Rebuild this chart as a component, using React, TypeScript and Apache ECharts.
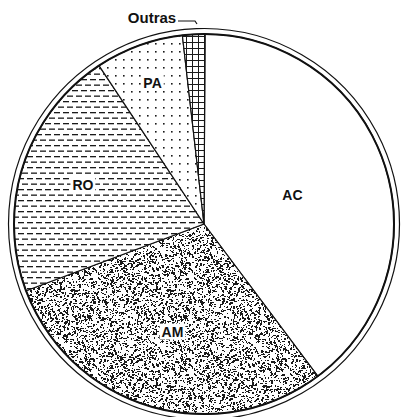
import React, { useEffect, useRef } from "react";
import * as echarts from "echarts";

const categories = ["AC", "AM", "RO", "PA", "Outras"];
const values = [39.7, 29.5, 21.4, 7.5, 1.9];
// fraction of radius at which each inside label sits
const labelRadiusFrac = [0.49, 0.59, 0.67, 0.79, 0];

const CX = 204;
const CY = 224;
const R = 190;
const START = 89.7;

function makeCanvas(w: number, h: number, draw: (ctx: CanvasRenderingContext2D) => void) {
  const c = document.createElement("canvas");
  c.width = w;
  c.height = h;
  const ctx = c.getContext("2d")!;
  ctx.fillStyle = "#ffffff";
  ctx.fillRect(0, 0, w, h);
  ctx.fillStyle = "#1a1a1a";
  draw(ctx);
  return c;
}

function stipple() {
  let s = 12345;
  const rnd = () => {
    s = (s * 1103515245 + 12345) & 0x7fffffff;
    return s / 0x7fffffff;
  };
  return makeCanvas(96, 96, (ctx) => {
    for (let i = 0; i < 1850; i++) {
      const x = Math.floor(rnd() * 96);
      const y = Math.floor(rnd() * 96);
      const w = rnd() < 0.6 ? 1 : 2;
      const h = rnd() < 0.7 ? 1 : 2;
      ctx.fillRect(x, y, w, h);
    }
  });
}

function dashes() {
  return makeCanvas(9, 11, (ctx) => {
    ctx.fillRect(0, 2, 6, 1.3);
    ctx.fillRect(4, 7.5, 5, 1.3);
    ctx.fillRect(0, 7.5, 1, 1.3);
  });
}

function dots() {
  return makeCanvas(8, 8, (ctx) => {
    ctx.fillRect(3, 3, 1.6, 1.6);
  });
}

function grid() {
  return makeCanvas(6, 6, (ctx) => {
    ctx.fillRect(0, 0, 6, 1);
    ctx.fillRect(0, 0, 1, 6);
  });
}

export default function App() {
  const ref = useRef<HTMLDivElement>(null);
  useEffect(() => {
    document.body.style.margin = "0";
    const chart = echarts.init(ref.current!, null, { renderer: "svg" });
    const patterns: any[] = [
      "#ffffff",
      { image: stipple(), repeat: "repeat" },
      { image: dashes(), repeat: "repeat" },
      { image: dots(), repeat: "repeat" },
      { image: grid(), repeat: "repeat" },
    ];
    const total = values.reduce((a, b) => a + b, 0);
    const mids: number[] = [];
    let acc = 0;
    values.forEach((v) => {
      const a0 = (acc / total) * 360;
      acc += v;
      const a1 = (acc / total) * 360;
      mids.push((90 - START) + (a0 + a1) / 2);
    });
    const labelBg = ["transparent", "#fff", "#fff", "#fff", "transparent"];
    chart.setOption({
      animation: false,
      series: [
        {
          type: "pie",
          center: [CX, CY],
          radius: [0, R],
          startAngle: START,
          clockwise: true,
          avoidLabelOverlap: false,
          data: categories.map((c, i) => ({
            name: c,
            value: values[i],
            itemStyle: { color: patterns[i] },
            label: {
              backgroundColor: labelBg[i],
              padding: [1, 2],
              fontSize: c === "Outras" ? 15 : 14,
            },
          })),
          itemStyle: { borderColor: "#111", borderWidth: 1.2 },
          label: {
            show: true,
            position: "inside",
            formatter: "{b}",
            fontFamily: "Liberation Sans",
            fontWeight: "bold",
            fontSize: 14,
            color: "#111",
          },
          labelLine: { show: false },
          emphasis: { disabled: true },
          labelLayout: (p: any) => {
            const i = p.dataIndex;
            if (categories[i] === "Outras") {
              return { x: 152, y: 17, align: "center", verticalAlign: "middle" };
            }
            const a = (mids[i] * Math.PI) / 180;
            const r = R * labelRadiusFrac[i];
            return {
              x: CX + r * Math.sin(a),
              y: CY - r * Math.cos(a),
              align: "center",
              verticalAlign: "middle",
            };
          },
        },
      ],
      graphic: [
        {
          type: "circle",
          z: 100,
          shape: { cx: CX, cy: CY, r: 195.5 },
          style: { fill: "none", stroke: "#111", lineWidth: 1.2 },
        },
        {
          type: "circle",
          z: 100,
          shape: { cx: CX, cy: CY, r: R },
          style: { fill: "none", stroke: "#111", lineWidth: 2 },
        },
        {
          type: "polyline",
          z: 100,
          shape: { points: [[178, 21], [195, 21], [197, 24]] },
          style: { fill: "none", stroke: "#111", lineWidth: 1.2 },
        },
      ],
    });
    return () => chart.dispose();
  }, []);
  return (
    <div
      ref={ref}
      style={{ position: "absolute", left: 0, top: 0, width: 401, height: 417, background: "#fff" }}
    />
  );
}
